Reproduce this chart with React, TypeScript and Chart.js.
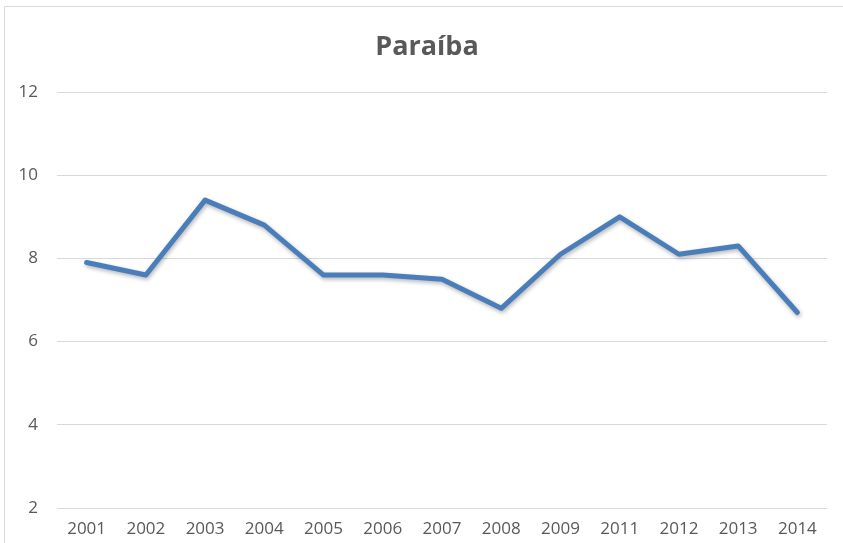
import React, { useEffect, useRef } from "react";
import { Chart, registerables } from "chart.js";

Chart.register(...registerables);

const years = ["2001", "2002", "2003", "2004", "2005", "2006", "2007", "2008", "2009", "2011", "2012", "2013", "2014"];
const values = [7.9, 7.6, 9.4, 8.8, 7.6, 7.6, 7.5, 6.8, 8.1, 9.0, 8.1, 8.3, 6.7];
const titleText = "Paraíba";
const yMin = 2;
const yMax = 12;
const yStep = 2;

const FONT = "'Open Sans', 'Liberation Sans', sans-serif";

const framePlugin = {
  id: "frame",
  beforeDraw(chart: any) {
    const ctx = chart.ctx;
    ctx.save();
    ctx.fillStyle = "#ffffff";
    ctx.fillRect(0, 0, chart.width, chart.height);
    ctx.strokeStyle = "#d9d9d9";
    ctx.lineWidth = 1;
    ctx.beginPath();
    ctx.moveTo(4.5, chart.height);
    ctx.lineTo(4.5, 6.5);
    ctx.lineTo(chart.width, 6.5);
    ctx.stroke();
    ctx.restore();
  },
};

const shadowPlugin = {
  id: "lineShadow",
  beforeDatasetDraw(chart: any) {
    const ctx = chart.ctx;
    ctx.save();
    ctx.shadowColor = "rgba(0,0,0,0.3)";
    ctx.shadowBlur = 4;
    ctx.shadowOffsetX = 1;
    ctx.shadowOffsetY = 2;
  },
  afterDatasetDraw(chart: any) {
    chart.ctx.restore();
  },
};

export default function App() {
  const ref = useRef<HTMLCanvasElement | null>(null);
  useEffect(() => {
    if (!ref.current) return;
    const chart = new Chart(ref.current, {
      type: "line",
      data: {
        labels: years,
        datasets: [
          {
            data: values,
            borderColor: "#4A7EBB",
            borderWidth: 5,
            pointRadius: 0,
            tension: 0,
            fill: false,
            borderJoinStyle: "round",
            borderCapStyle: "round",
          },
        ],
      },
      options: {
        animation: false,
        responsive: false,
        maintainAspectRatio: false,
        layout: { padding: { left: 11, right: 0, top: 0, bottom: 0 } },
        plugins: {
          legend: { display: false },
          tooltip: { enabled: false },
          title: {
            display: true,
            text: titleText,
            color: "#595959",
            font: { family: FONT, size: 27, weight: "bold", lineHeight: 1.2 },
            padding: { top: 31, bottom: 28.6 },
          },
        },
        scales: {
          x: {
            offset: true,
            grid: { display: false, drawTicks: false },
            border: { display: false },
            ticks: {
              color: "#595959",
              font: { family: FONT, size: 17 },
              padding: 11,
              maxRotation: 0,
              autoSkip: false,
            },
            afterFit: (s: any) => {
              s.height = 35;
            },
          },
          y: {
            min: yMin,
            max: yMax,
            grid: { color: "#d9d9d9", lineWidth: 1, drawTicks: false },
            border: { display: false },
            ticks: {
              stepSize: yStep,
              color: "#595959",
              font: { family: FONT, size: 17 },
              padding: 19,
            },
            afterFit: (s: any) => {
              s.width = 46;
            },
          },
          yRightSpacer: {
            position: "right",
            min: yMin,
            max: yMax,
            grid: { display: false, drawTicks: false },
            border: { display: false },
            ticks: { display: false },
            afterFit: (s: any) => {
              s.width = 16;
            },
          },
        },
      },
      plugins: [framePlugin, shadowPlugin],
    });
    return () => chart.destroy();
  }, []);
  return (
    <div style={{ position: "fixed", left: 0, top: 0, width: 843, height: 543, background: "#fff" }}>
      <canvas ref={ref} width={843} height={543} style={{ display: "block", width: 843, height: 543 }} />
    </div>
  );
}
